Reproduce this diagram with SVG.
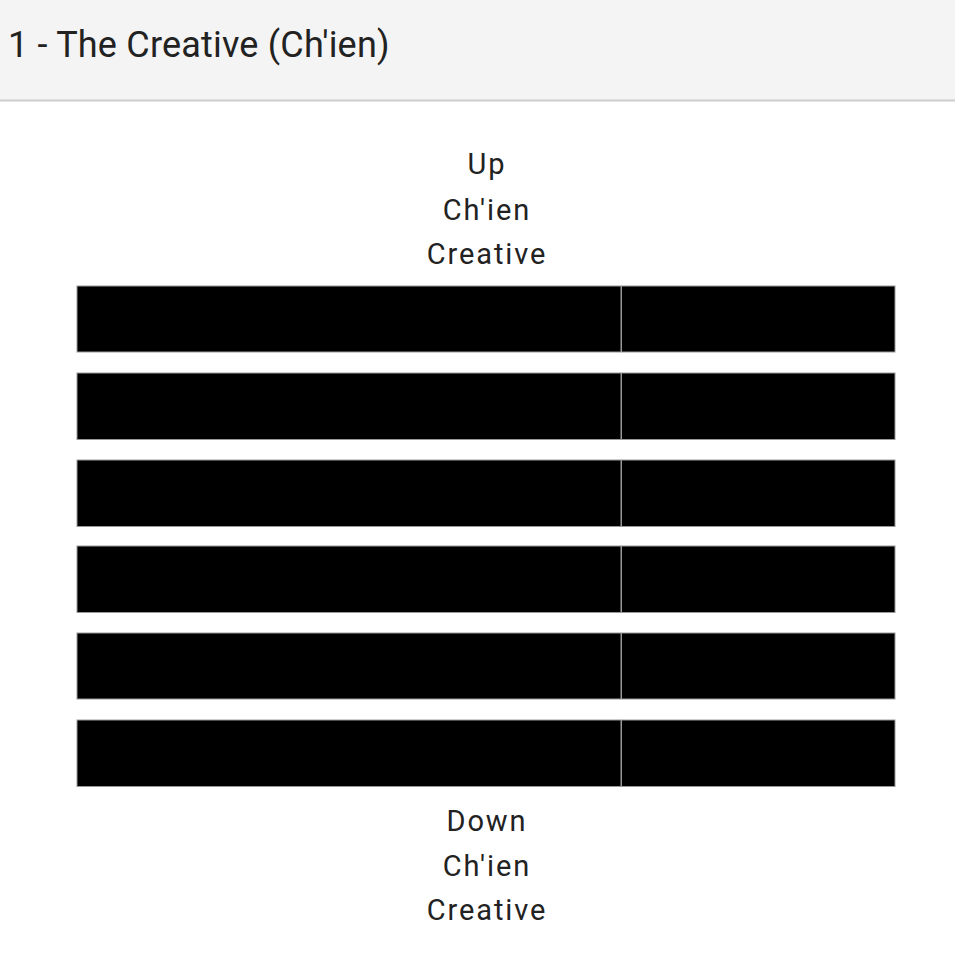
<svg xmlns="http://www.w3.org/2000/svg" width="955" height="962" viewBox="0 0 955 962">
<style>
.t{font-family:Roboto,"Liberation Sans",sans-serif;fill:#222;}
.lbl{font-size:29px;text-anchor:middle;letter-spacing:1.9px;}
.bar{fill:#000;stroke:#999;stroke-width:1;}
</style>
<rect x="0" y="0" width="955" height="962" fill="#fff"/>
<g id="header">
<rect x="0" y="0" width="955" height="100" fill="#f4f4f4"/>
<line x1="0" y1="100.5" x2="955" y2="100.5" stroke="#ccc" stroke-width="2"/>
<text class="t" x="8" y="57" font-size="36" letter-spacing="0.2" fill="#111">1 - The Creative (Ch'ien)</text>
</g>
<g id="top-label">
<text class="t lbl" x="487" y="174">Up</text>
<text class="t lbl" x="487" y="220">Ch'ien</text>
<text class="t lbl" x="487" y="264">Creative</text>
</g>
<g id="line6"><rect class="bar" x="77" y="286" width="544" height="66"/><rect class="bar" x="621.5" y="286" width="273.5" height="66"/></g>
<g id="line5"><rect class="bar" x="77" y="373" width="544" height="66.5"/><rect class="bar" x="621.5" y="373" width="273.5" height="66.5"/></g>
<g id="line4"><rect class="bar" x="77" y="460" width="544" height="66.5"/><rect class="bar" x="621.5" y="460" width="273.5" height="66.5"/></g>
<g id="line3"><rect class="bar" x="77" y="546" width="544" height="66.5"/><rect class="bar" x="621.5" y="546" width="273.5" height="66.5"/></g>
<g id="line2"><rect class="bar" x="77" y="633" width="544" height="66"/><rect class="bar" x="621.5" y="633" width="273.5" height="66"/></g>
<g id="line1"><rect class="bar" x="77" y="720" width="544" height="66.5"/><rect class="bar" x="621.5" y="720" width="273.5" height="66.5"/></g>
<g id="bottom-label">
<text class="t lbl" x="487" y="831">Down</text>
<text class="t lbl" x="487" y="876">Ch'ien</text>
<text class="t lbl" x="487" y="920">Creative</text>
</g>
</svg>
